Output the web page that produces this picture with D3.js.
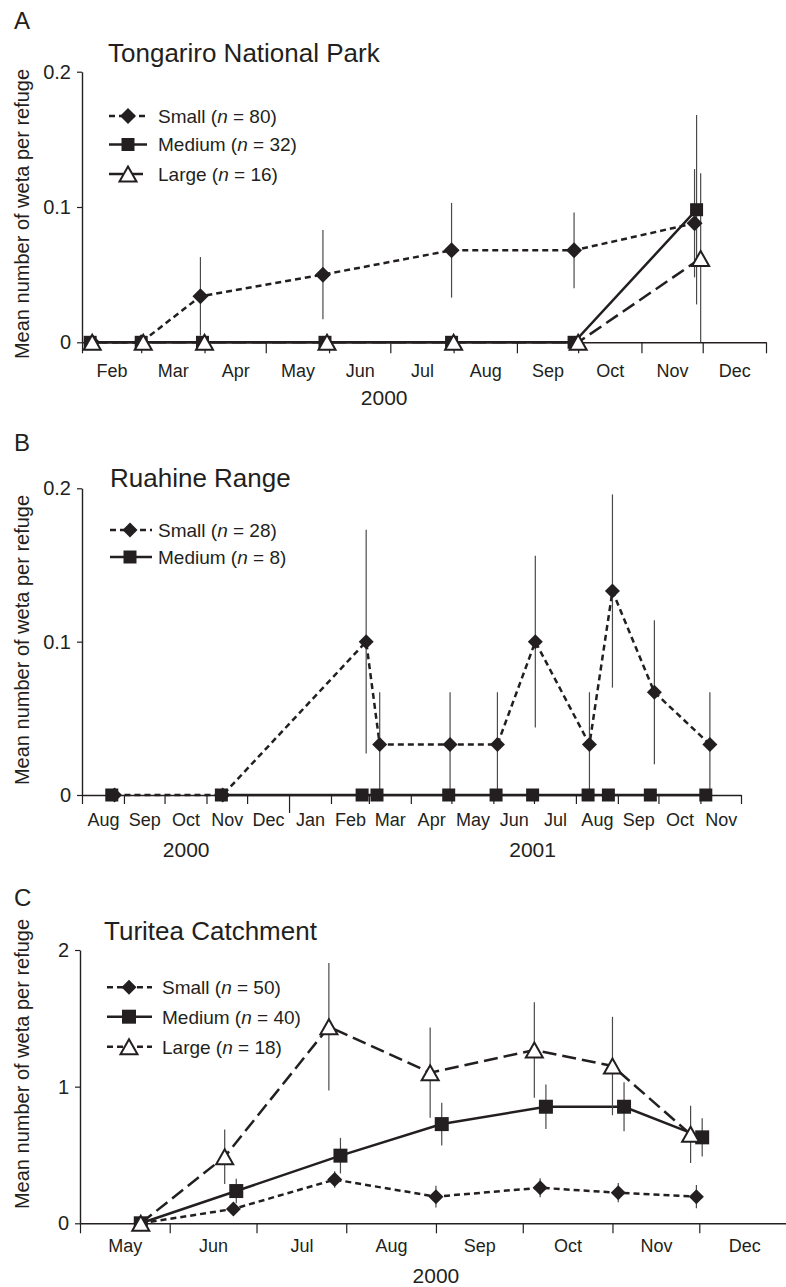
<!DOCTYPE html>
<html>
<head>
<meta charset="utf-8">
<script src="https://cdn.jsdelivr.net/npm/d3@7"></script>
<style>
  body { margin: 0; background: #fff; }
  svg { display: block; }
  text { font-family: "Liberation Sans", Arial, Helvetica, sans-serif; fill: #231f20; }
</style>
</head>
<body>
<svg id="chart" width="786" height="1287"></svg>
<script>
// ---------------- DATA ----------------
// Panel A – Tongariro National Park (2000)
const tongariroMonths = ["Feb","Mar","Apr","May","Jun","Jul","Aug","Sep","Oct","Nov","Dec"];
const tongariroYTicks = [0, 0.1, 0.2];
const tongariroYears = ["2000"];
const tongariroYearAt = ["2000-06-28"];
const tongariroSmallDates  = ["2000-02-06","2000-03-01","2000-03-30","2000-05-29","2000-07-31","2000-09-29","2000-11-27"];
const tongariroSmallMean   = [0, 0, 0.034, 0.050, 0.068, 0.068, 0.088];
const tongariroSmallSE     = [0, 0, 0.029, 0.033, 0.035, 0.028, 0.040];
const tongariroMediumDates = ["2000-02-05","2000-03-01","2000-03-31","2000-05-30","2000-07-31","2000-09-29","2000-11-28"];
const tongariroMediumMean  = [0, 0, 0, 0, 0, 0, 0.098];
const tongariroMediumSE    = [0, 0, 0, 0, 0, 0, 0.070];
const tongariroLargeDates  = ["2000-02-06","2000-03-02","2000-04-01","2000-05-31","2000-08-01","2000-10-01","2000-11-30"];
const tongariroLargeMean   = [0, 0, 0, 0, 0, 0, 0.062];
const tongariroLargeSE     = [0, 0, 0, 0, 0, 0, 0.063];

// Panel B – Ruahine Range (2000–2001)
const ruahineMonths = ["Aug","Sep","Oct","Nov","Dec","Jan","Feb","Mar","Apr","May","Jun","Jul","Aug","Sep","Oct","Nov"];
const ruahineYTicks = [0, 0.1, 0.2];
const ruahineYears = ["2000","2001"];
const ruahineYearAt = ["2000-10-17","2001-06-30"];
const ruahineSmallDates  = ["2000-08-25","2000-11-13","2001-02-27","2001-03-09","2001-04-30","2001-06-04","2001-07-02","2001-08-11","2001-08-28","2001-09-28","2001-11-08"];
const ruahineSmallMean   = [0, 0, 0.100, 0.033, 0.033, 0.033, 0.100, 0.033, 0.133, 0.067, 0.033];
const ruahineSmallSE     = [0, 0, 0.073, 0.034, 0.034, 0.034, 0.056, 0.034, 0.063, 0.047, 0.034];
const ruahineMediumDates = ["2000-08-23","2000-11-12","2001-02-24","2001-03-07","2001-04-29","2001-06-03","2001-06-30","2001-08-10","2001-08-25","2001-09-25","2001-11-05"];
const ruahineMediumMean  = [0, 0, 0, 0, 0, 0, 0, 0, 0, 0, 0];
const ruahineMediumSE    = [0, 0, 0, 0, 0, 0, 0, 0, 0, 0, 0];

// Panel C – Turitea Catchment (2000)
const turiteaMonths = ["May","Jun","Jul","Aug","Sep","Oct","Nov","Dec"];
const turiteaYTicks = [0, 1, 2];
const turiteaYears = ["2000"];
const turiteaYearAt = ["2000-09-01"];
const turiteaSmallDates  = ["2000-05-22","2000-06-23","2000-07-28","2000-09-01","2000-10-07","2000-11-03","2000-11-30"];
const turiteaSmallMean   = [0, 0.105, 0.320, 0.195, 0.260, 0.224, 0.195];
const turiteaSmallSE     = [0, 0.040, 0.060, 0.080, 0.070, 0.070, 0.085];
const turiteaMediumDates = ["2000-05-22","2000-06-24","2000-07-30","2000-09-03","2000-10-09","2000-11-05","2000-12-02"];
const turiteaMediumMean  = [0, 0.236, 0.495, 0.726, 0.853, 0.853, 0.629];
const turiteaMediumSE    = [0, 0.090, 0.130, 0.156, 0.163, 0.180, 0.140];
const turiteaLargeDates  = ["2000-05-22","2000-06-20","2000-07-26","2000-08-30","2000-10-05","2000-11-01","2000-11-28"];
const turiteaLargeMean   = [0, 0.487, 1.438, 1.102, 1.268, 1.151, 0.651];
const turiteaLargeSE     = [0, 0.200, 0.466, 0.330, 0.350, 0.360, 0.210];

// ---------------- DRAWING ----------------
const parse = d3.timeParse("%Y-%m-%d");
const svg = d3.select("#chart");
const INK = "#231f20";
const BAR = "#4a4a4a";

function series(dates, mean, se) {
  return dates.map((d, i) => ({ date: parse(d), v: mean[i], se: se[i] }));
}

function markerPath(shape, s) {
  const h = s / 2;
  if (shape === "diamond") return `M0,${-h}L${h},0L0,${h}L${-h},0Z`;
  if (shape === "square") return `M${-h},${-h}H${h}V${h}H${-h}Z`;
  const th = s * 0.44;
  return `M0,${-th}L${h},${th}L${-h},${th}Z`;
}

const STYLE = {
  small:  { dash: "6,4",  shape: "diamond",  fill: INK,   stroke: "none", sw: 0 },
  medium: { dash: null,   shape: "square",   fill: INK,   stroke: "none", sw: 0 },
  large:  { dash: "14,6", shape: "triangle", fill: "#fff", stroke: INK,   sw: 2 }
};

function drawPanel(p) {
  const g = svg.append("g");
  const start = parse(p.start), end = parse(p.end);
  const x = d3.scaleTime().domain([start, end]).range([p.x0, p.x1]);
  const y = d3.scaleLinear().domain([0, p.ymax]).range([p.y0, p.yTop]);

  // Panel letter and title
  g.append("text").attr("x", p.letterX).attr("y", p.letterY).attr("font-size", 24).text(p.letter);
  g.append("text").attr("x", p.titleX).attr("y", p.titleY).attr("font-size", 26).text(p.title);

  // x axis: month boundary ticks
  const monthStarts = d3.timeMonth.range(start, d3.timeDay.offset(end, 1));
  const gx = g.append("g").attr("transform", `translate(0,${p.y0})`)
    .call(d3.axisBottom(x).tickValues(monthStarts).tickSize(p.tickLen).tickSizeOuter(0).tickFormat(""));
  gx.select(".domain").attr("stroke", INK).attr("stroke-width", 1.4);
  gx.selectAll(".tick line").attr("stroke", INK).attr("stroke-width", 1.2)
    .attr("y2", d => (p.longTick && +d === +parse(p.longTick)) ? p.longLen : p.tickLen);

  // month labels at mid-month
  const mids = monthStarts.slice(0, -1).map((m, i) => new Date((+m + +monthStarts[i + 1]) / 2));
  const gl = g.append("g").attr("transform", `translate(0,${p.y0})`)
    .call(d3.axisBottom(x).tickValues(mids).tickSize(0).tickFormat((d, i) => p.months[i]));
  gl.select(".domain").remove();
  gl.selectAll(".tick text").attr("y", p.monthBase - p.y0).attr("dy", 0)
    .attr("font-size", 18).attr("font-family", null).attr("fill", INK);

  // year labels
  g.selectAll("text.year").data(p.years).join("text").attr("class", "year")
    .attr("x", (d, i) => x(parse(p.yearAt[i]))).attr("y", p.yearBase)
    .attr("text-anchor", "middle").attr("font-size", 21).text(d => d);

  // y axis
  const gy = g.append("g").attr("transform", `translate(${p.x0},0)`)
    .call(d3.axisLeft(y).tickValues(p.yTicks).tickSize(5).tickPadding(6).tickSizeOuter(0)
      .tickFormat(d => d === 0 ? "0" : String(d)));
  gy.select(".domain").attr("stroke", INK).attr("stroke-width", 1.4);
  gy.selectAll(".tick line").attr("stroke", INK).attr("stroke-width", 1.2);
  gy.selectAll(".tick text").attr("font-size", 20).attr("font-family", null).attr("fill", INK);

  // y label
  g.append("text")
    .attr("transform", `translate(${p.ylabX},${p.ylabY}) rotate(-90)`)
    .attr("text-anchor", "middle").attr("font-size", 20)
    .text("Mean number of weta per refuge");

  // lines
  p.series.forEach(s => {
    const st = STYLE[s.kind];
    const line = d3.line().x(d => x(d.date)).y(d => y(d.v));
    const segs = s.gapAfter != null ? [s.data.slice(0, s.gapAfter + 1), s.data.slice(s.gapAfter + 1)] : [s.data];
    segs.forEach(seg => {
      if (seg.length < 2) return;
      g.append("path").attr("d", line(seg)).attr("fill", "none")
        .attr("stroke", INK).attr("stroke-width", 2.5)
        .attr("stroke-dasharray", st.dash);
    });
  });

  // error bars
  p.series.forEach(s => {
    g.selectAll(null).data(s.data.filter(d => d.se > 0)).join("line")
      .attr("x1", d => x(d.date)).attr("x2", d => x(d.date))
      .attr("y1", d => y(Math.max(0, d.v - d.se))).attr("y2", d => y(d.v + d.se))
      .attr("stroke", BAR).attr("stroke-width", 1.2);
  });

  // markers
  p.series.forEach(s => {
    const st = STYLE[s.kind];
    g.selectAll(null).data(s.data).join("path")
      .attr("transform", d => `translate(${x(d.date)},${y(d.v)})`)
      .attr("d", markerPath(st.shape, p.msize[s.kind]))
      .attr("fill", st.fill).attr("stroke", st.stroke).attr("stroke-width", st.sw);
  });

  // legend
  p.series.forEach((s, i) => {
    const st = STYLE[s.kind];
    const ly = p.leg.ys[i];
    g.append("line").attr("x1", p.leg.x1).attr("x2", p.leg.x2).attr("y1", ly).attr("y2", ly)
      .attr("stroke", INK).attr("stroke-width", 2.5)
      .attr("stroke-dasharray", s.legDash !== undefined ? s.legDash : st.dash);
    g.append("path").attr("transform", `translate(${p.leg.xm},${ly})`)
      .attr("d", markerPath(st.shape, p.msize[s.kind]))
      .attr("fill", st.fill).attr("stroke", st.stroke).attr("stroke-width", st.sw);
    const t = g.append("text").attr("x", p.leg.xt).attr("y", ly).attr("dy", "0.36em").attr("font-size", 19);
    t.append("tspan").text(s.name + " (");
    t.append("tspan").attr("font-style", "italic").text("n");
    t.append("tspan").text(" = " + s.n + ")");
  });
}

drawPanel({
  letter: "A", letterX: 14, letterY: 29,
  title: "Tongariro National Park", titleX: 108, titleY: 62,
  start: "2000-02-01", end: "2001-01-01", x0: 82, x1: 766,
  y0: 342.3, yTop: 71.7, ymax: 0.2, yTicks: tongariroYTicks,
  tickLen: 11, months: tongariroMonths, monthBase: 377,
  years: tongariroYears, yearAt: tongariroYearAt, yearBase: 405,
  ylabX: 29, ylabY: 214,
  msize: { small: 16, medium: 13, large: 17 },
  leg: { x1: 109, x2: 147, xm: 128, xt: 158, ys: [116, 144.5, 174] },
  series: [
    { kind: "small", name: "Small", n: 80, data: series(tongariroSmallDates, tongariroSmallMean, tongariroSmallSE) },
    { kind: "medium", name: "Medium", n: 32, data: series(tongariroMediumDates, tongariroMediumMean, tongariroMediumSE) },
    { kind: "large", name: "Large", n: 16, data: series(tongariroLargeDates, tongariroLargeMean, tongariroLargeSE) }
  ]
});

drawPanel({
  letter: "B", letterX: 14, letterY: 451,
  title: "Ruahine Range", titleX: 110, titleY: 487,
  start: "2000-08-01", end: "2001-12-01", x0: 82, x1: 741,
  y0: 795, yTop: 488.3, ymax: 0.2, yTicks: ruahineYTicks,
  tickLen: 9, longTick: "2001-01-01", longLen: 18, months: ruahineMonths, monthBase: 826,
  years: ruahineYears, yearAt: ruahineYearAt, yearBase: 857,
  ylabX: 29, ylabY: 640,
  msize: { small: 15, medium: 13 },
  leg: { x1: 110, x2: 152, xm: 130, xt: 158, ys: [530, 557] },
  series: [
    { kind: "small", name: "Small", n: 28, data: series(ruahineSmallDates, ruahineSmallMean, ruahineSmallSE) },
    { kind: "medium", name: "Medium", n: 8, gapAfter: 0, data: series(ruahineMediumDates, ruahineMediumMean, ruahineMediumSE) }
  ]
});

drawPanel({
  letter: "C", letterX: 14, letterY: 906,
  title: "Turitea Catchment", titleX: 104, titleY: 940,
  start: "2000-05-01", end: "2001-01-01", x0: 80, x1: 789,
  y0: 1223.3, yTop: 950, ymax: 2, yTicks: turiteaYTicks,
  tickLen: 10, months: turiteaMonths, monthBase: 1252,
  years: turiteaYears, yearAt: turiteaYearAt, yearBase: 1283,
  ylabX: 29, ylabY: 1064,
  msize: { small: 15, medium: 14, large: 17 },
  leg: { x1: 107, x2: 152, xm: 129, xt: 162, ys: [987.3, 1016.7, 1046.7] },
  series: [
    { kind: "small", name: "Small", n: 50, data: series(turiteaSmallDates, turiteaSmallMean, turiteaSmallSE) },
    { kind: "medium", name: "Medium", n: 40, data: series(turiteaMediumDates, turiteaMediumMean, turiteaMediumSE) },
    { kind: "large", name: "Large", n: 18, legDash: "6,4", data: series(turiteaLargeDates, turiteaLargeMean, turiteaLargeSE) }
  ]
});
</script>
</body>
</html>
